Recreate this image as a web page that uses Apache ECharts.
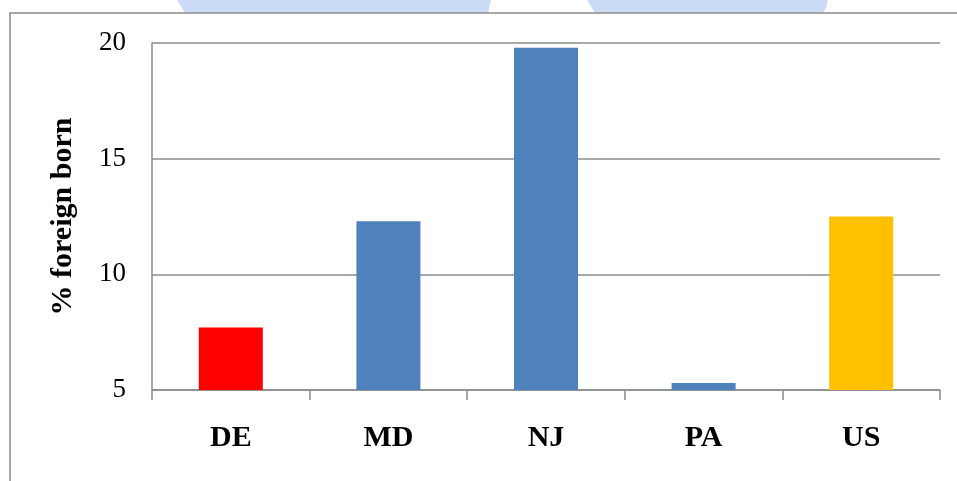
<!DOCTYPE html>
<html>
<head>
<meta charset="utf-8">
<script src="https://cdn.jsdelivr.net/npm/echarts@6/dist/echarts.min.js"></script>
<style>html,body{margin:0;padding:0;background:#fff}#c{width:957px;height:481px}</style>
</head>
<body>
<div id="c"></div>
<script>
const categories = ['DE', 'MD', 'NJ', 'PA', 'US'];
const values = [7.7, 12.3, 19.8, 5.3, 12.5];
const barColors = ['#ff0000', '#4f81bd', '#4f81bd', '#4f81bd', '#ffc000'];
const yTicks = { min: 5, max: 20, interval: 5 };
const yTitle = '% foreign born';

const chart = echarts.init(document.getElementById('c'));
const gray = '#8c8c8c';
chart.setOption({
  animation: false,
  backgroundColor: '#fff',
  graphic: [
    { type: 'polygon', shape: { points: [[177,0],[491,0],[488,13],[185,13]] }, style: { fill: '#cbdcf6' }, silent: true },
    { type: 'polygon', shape: { points: [[587,0],[828,0],[826,8],[823,13],[595,13]] }, style: { fill: '#cbdcf6' }, silent: true },
    { type: 'rect', shape: { x: 10, y: 13, width: 1000, height: 1000 }, style: { fill: 'none', stroke: gray, lineWidth: 1.5 }, silent: true }
  ],
  grid: { left: 152, right: 17, top: 43, bottom: 91, containLabel: false },
  xAxis: {
    type: 'category',
    data: categories,
    axisLine: { lineStyle: { color: gray, width: 1.5 } },
    axisTick: { show: true, length: 10, lineStyle: { color: gray, width: 1.5 } },
    axisLabel: { color: '#000', fontFamily: 'Liberation Serif', fontWeight: 'bold', fontSize: 30, margin: 33 }
  },
  yAxis: {
    type: 'value',
    min: yTicks.min, max: yTicks.max, interval: yTicks.interval,
    name: yTitle,
    nameLocation: 'middle',
    nameGap: 74,
    nameTextStyle: { color: '#000', fontFamily: 'Liberation Serif', fontWeight: 'bold', fontSize: 30 },
    axisLine: { show: true, lineStyle: { color: gray, width: 1.5 } },
    axisTick: { show: false },
    axisLabel: { color: '#000', fontFamily: 'Liberation Serif', fontSize: 27, margin: 26 },
    splitLine: { lineStyle: { color: gray, width: 1.5 } }
  },
  series: [{
    type: 'bar',
    data: values.map((v, i) => ({ value: v, itemStyle: { color: barColors[i] } })),
    barWidth: 64
  }]
});
</script>
</body>
</html>
